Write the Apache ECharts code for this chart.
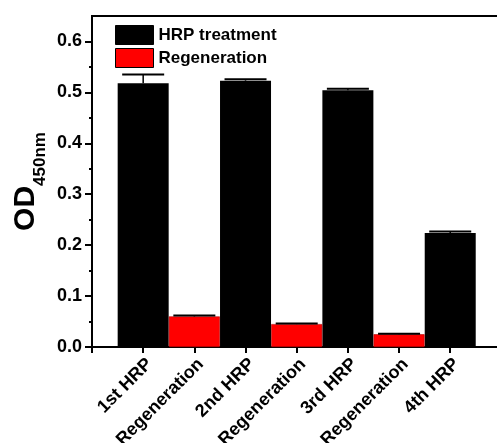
<!DOCTYPE html>
<html>
<head>
<meta charset="utf-8">
<script src="https://cdn.jsdelivr.net/npm/echarts@6/dist/echarts.min.js"></script>
<style>html,body{margin:0;padding:0;background:#fff;}#c{width:497px;height:443px;}</style>
</head>
<body>
<div id="c"></div>
<script>
const categories = ['', '1st HRP', 'Regeneration', '2nd HRP', 'Regeneration', '3rd HRP', 'Regeneration', '4th HRP', ''];
const hrpValues = [null, 0.518, null, 0.523, null, 0.504, null, 0.224, null];
const regenValues = [null, null, 0.060, null, 0.045, null, 0.025, null, null];
const errors = [null, 0.017, 0.002, 0.003, 0.001, 0.003, 0.001, 0.003, null];
const yMajorTicks = [0, 0.1, 0.2, 0.3, 0.4, 0.5, 0.6];
const yMinorTicks = [0.05, 0.15, 0.25, 0.35, 0.45, 0.55];
const seriesNames = ['HRP treatment', 'Regeneration'];

const FONT = 'Liberation Sans';
const errData = [];
categories.forEach((c, i) => {
  const v = hrpValues[i] != null ? hrpValues[i] : regenValues[i];
  if (v != null) errData.push([i, v, errors[i]]);
});

const chart = echarts.init(document.getElementById('c'));
chart.setOption({
  animation: false,
  backgroundColor: '#fff',
  grid: { left: 92, right: -4.4, top: 16, bottom: 96, show: true, borderColor: '#000', borderWidth: 2, outerBoundsMode: 'none' },
  legend: {
    left: 115, top: 25, orient: 'vertical', itemWidth: 38, itemHeight: 19, itemGap: 3, padding: 0,
    selectedMode: false, icon: 'rect',
    textStyle: { fontFamily: FONT, fontWeight: 'bold', fontSize: 17, color: '#000' },
    data: [
      { name: seriesNames[0], itemStyle: { color: '#000', borderColor: '#000', borderWidth: 1 } },
      { name: seriesNames[1], itemStyle: { color: '#ff0000', borderColor: '#000', borderWidth: 1 } }
    ]
  },
  xAxis: {
    type: 'category', data: categories, boundaryGap: false,
    axisLine: { lineStyle: { color: '#000', width: 2 } },
    axisTick: { show: true, length: 6, lineStyle: { color: '#000', width: 2 } },
    axisLabel: { rotate: 45, interval: 0, margin: 8, verticalAlign: 'top', fontFamily: FONT, fontWeight: 'bold', fontSize: 18, color: '#000' },
    splitLine: { show: false }
  },
  yAxis: [{
    type: 'value', min: 0, max: 0.65,
    axisLine: { show: true, lineStyle: { color: '#000', width: 2 } },
    axisTick: { show: true, length: 7, lineStyle: { color: '#000', width: 2 }, customValues: yMajorTicks },
    axisLabel: { margin: 10, fontFamily: FONT, fontWeight: 'bold', fontSize: 18, color: '#000', customValues: yMajorTicks, formatter: v => v.toFixed(1) },
    splitLine: { show: false },
    name: '{a|OD}{b|450nm}', nameLocation: 'middle', nameRotate: 90, nameGap: 49, nameMoveOverlap: false,
    nameTextStyle: {
      rich: {
        a: { fontFamily: FONT, fontWeight: 'bold', fontSize: 30, color: '#000', lineHeight: 34 },
        b: { fontFamily: FONT, fontWeight: 'bold', fontSize: 17, color: '#000', lineHeight: 34, verticalAlign: 'bottom', padding: [0, 0, -6, 0] }
      }
    }
  }, {
    type: 'value', min: 0, max: 0.65, position: 'left',
    axisLine: { show: false },
    axisTick: { show: true, length: 3, lineStyle: { color: '#000', width: 2 }, customValues: yMinorTicks },
    axisLabel: { show: false },
    splitLine: { show: false }
  }],
  series: [
    { name: seriesNames[0], type: 'bar', data: hrpValues, barWidth: 51, barGap: '-100%',
      itemStyle: { color: '#000' } },
    { name: seriesNames[1], type: 'bar', data: regenValues, barWidth: 51, barGap: '-100%',
      itemStyle: { color: '#ff0000', borderColor: '#b00000', borderWidth: 0.6 } },
    { type: 'custom', z: 10, data: errData,
      renderItem: (params, api) => {
        const x = api.value(0), v = api.value(1), e = api.value(2);
        const p0 = api.coord([x, v]);
        const p1 = api.coord([x, v + e]);
        return { type: 'group', children: [
          { type: 'line', shape: { x1: p0[0], y1: p0[1], x2: p1[0], y2: p1[1] }, style: { stroke: '#000', lineWidth: 1.5 } },
          { type: 'line', shape: { x1: p1[0] - 21, y1: p1[1], x2: p1[0] + 21, y2: p1[1] }, style: { stroke: '#000', lineWidth: 2 } }
        ] };
      }
    }
  ]
});
</script>
</body>
</html>
